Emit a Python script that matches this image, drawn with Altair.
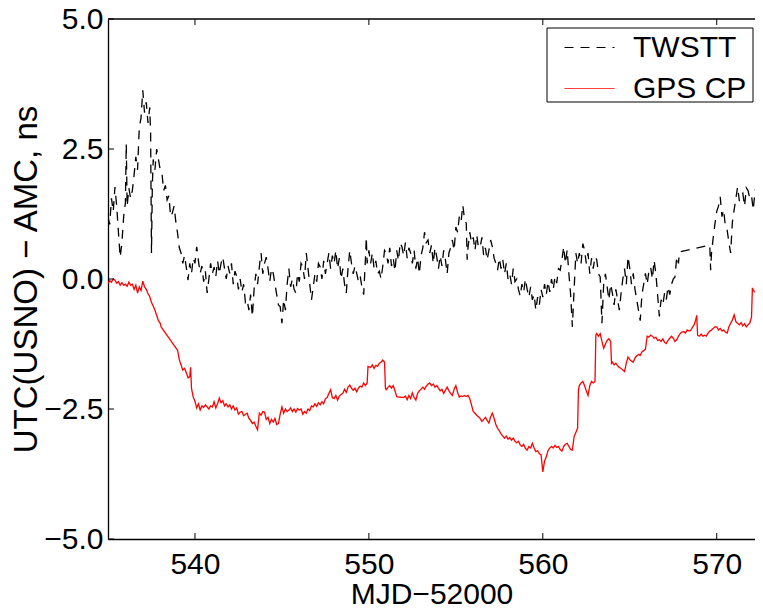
import altair as alt
import pandas as pd

# ---------------- data ----------------
twstt_x = [535.0,535.1,535.2,535.3,535.4,535.5,535.6,535.7,535.8,535.9,536.0,536.05,536.1,536.2,536.3,536.4,536.5,536.6,536.7,536.8,536.9,537.0,537.1,537.2,537.3,537.4,537.45,537.5,537.55,537.6,537.7,537.8,537.9,538.0,538.1,538.2,538.3,538.4,538.5,538.6,538.7,538.8,538.9,539.0,539.1,539.2,539.3,539.4,539.5,539.6,539.7,539.8,539.9,540.0,540.1,540.2,540.3,540.4,540.5,540.6,540.7,540.8,540.9,541.0,541.1,541.2,541.3,541.4,541.5,541.6,541.7,541.8,541.9,542.0,542.1,542.2,542.3,542.4,542.5,542.6,542.7,542.8,542.9,543.0,543.1,543.2,543.3,543.4,543.5,543.6,543.7,543.8,543.9,544.0,544.1,544.2,544.3,544.4,544.5,544.6,544.7,544.8,544.9,545.0,545.1,545.2,545.3,545.4,545.5,545.6,545.7,545.8,545.9,546.0,546.1,546.2,546.3,546.4,546.5,546.6,546.7,546.8,546.9,547.0,547.1,547.2,547.3,547.4,547.5,547.6,547.7,547.8,547.9,548.0,548.1,548.2,548.3,548.4,548.5,548.6,548.7,548.8,548.9,549.0,549.1,549.2,549.3,549.4,549.5,549.6,549.7,549.8,549.85,549.9,550.0,550.1,550.2,550.3,550.4,550.5,550.6,550.7,550.8,550.9,551.0,551.1,551.2,551.3,551.4,551.5,551.6,551.7,551.8,551.9,552.0,552.1,552.2,552.3,552.4,552.5,552.6,552.7,552.8,552.9,553.0,553.1,553.2,553.3,553.4,553.5,553.6,553.7,553.8,553.9,554.0,554.1,554.2,554.3,554.4,554.5,554.6,554.7,554.8,554.9,555.0,555.1,555.2,555.3,555.4,555.5,555.6,555.65,555.7,555.8,555.9,556.0,556.1,556.2,556.3,556.4,556.5,556.6,556.7,556.8,556.9,557.0,557.1,557.2,557.3,557.4,557.5,557.6,557.7,557.8,557.9,558.0,558.1,558.2,558.3,558.4,558.5,558.6,558.7,558.8,558.9,559.0,559.1,559.2,559.3,559.4,559.5,559.6,559.7,559.8,559.9,560.0,560.1,560.2,560.3,560.4,560.5,560.6,560.7,560.8,560.9,561.0,561.1,561.2,561.3,561.4,561.5,561.6,561.7,561.8,561.9,562.0,562.1,562.2,562.3,562.4,562.5,562.6,562.7,562.8,562.9,563.0,563.1,563.2,563.3,563.4,563.5,563.6,563.7,563.8,563.9,564.0,564.1,564.2,564.3,564.4,564.5,564.6,564.7,564.8,564.9,565.0,565.1,565.2,565.3,565.4,565.5,565.6,565.7,565.8,565.9,566.0,566.1,566.2,566.3,566.4,566.5,566.6,566.7,566.8,566.9,567.0,567.1,567.2,567.3,567.4,567.5,567.6,567.7,567.8,567.85,569.6,569.65,569.7,569.8,569.9,570.0,570.1,570.2,570.3,570.4,570.5,570.6,570.7,570.8,570.9,571.0,571.1,571.2,571.3,571.4,571.5,571.6,571.7,571.8,571.9,572.0,572.1,572.2,572.3,572.4,572.5,572.6]
twstt_y = [1.19,1.05,1.55,1.3,1.77,1.4,0.9,0.42,0.7,1.2,1.46,2.6,1.4,1.75,1.55,1.7,2.0,2.35,2.1,2.92,3.1,3.63,3.2,3.4,3.0,3.3,2.8,0.5,1.8,2.3,2.1,2.5,2.3,2.1,2.04,1.7,1.8,1.52,1.6,1.2,1.27,1.4,1.1,0.88,0.6,0.5,0.3,0.45,0.23,-0.02,0.3,0.1,0.4,0.3,0.62,0.35,0.11,0.25,-0.05,0.15,-0.27,0.0,0.3,0.1,0.23,0.05,0.35,0.1,0.3,0.42,0.2,0.0,0.25,0.11,0.3,-0.1,0.15,0.05,-0.2,0.0,-0.25,-0.1,-0.45,-0.4,-0.6,-0.3,-0.72,-0.2,0.1,-0.1,0.23,0.5,0.1,0.3,0.42,0.2,-0.05,0.2,0.11,-0.1,-0.3,-0.5,-0.53,-0.85,-0.4,-0.6,-0.1,0.2,-0.15,0.0,-0.2,-0.27,0.1,-0.05,0.3,0.23,0.0,0.5,0.2,-0.1,-0.4,-0.15,0.1,-0.05,0.3,0.23,0.0,0.35,0.1,0.3,0.5,0.2,0.45,0.3,0.55,0.2,0.4,0.0,0.2,-0.1,-0.27,0.2,0.55,0.3,0.1,0.25,0.11,-0.05,0.05,-0.15,-0.3,0.37,0.8,0.3,0.55,0.3,0.5,0.2,0.35,0.1,0.15,0.0,0.25,0.55,0.5,0.3,0.6,0.25,0.4,0.15,0.55,0.35,0.7,0.62,0.45,0.7,0.4,0.6,0.5,0.3,0.55,0.2,0.4,0.1,0.45,0.6,0.9,0.7,0.75,0.5,0.65,0.3,0.6,0.43,0.2,0.45,0.25,0.55,0.37,0.1,0.5,0.6,0.75,0.55,1.0,0.9,1.2,1.1,1.42,1.15,1.07,0.37,0.6,0.9,0.7,0.8,0.55,0.85,0.6,0.62,0.8,0.45,0.6,0.37,0.55,0.75,0.62,0.4,0.3,0.17,0.4,0.2,0.37,0.1,0.3,0.0,0.1,-0.1,0.2,-0.05,0.0,-0.2,-0.33,-0.1,-0.25,0.0,-0.2,-0.35,-0.15,-0.4,-0.3,-0.6,-0.35,-0.5,-0.2,-0.35,-0.1,-0.3,-0.05,-0.25,0.0,-0.2,0.05,-0.08,0.2,0.17,0.37,0.62,0.3,0.56,0.1,-0.3,-0.92,-0.2,0.5,0.3,0.5,0.3,0.68,0.56,0.3,0.5,0.1,0.4,0.2,0.43,0.37,0.1,0.04,-0.85,-0.1,0.1,-0.15,-0.4,-0.1,-0.27,-0.5,-0.2,-0.4,-0.6,-0.27,0.0,0.2,-0.1,0.43,0.2,-0.1,0.11,-0.2,-0.4,-0.6,-0.8,-0.3,-0.1,0.11,-0.1,0.15,0.23,0.0,0.36,0.1,-0.3,-0.72,-0.4,-0.5,-0.27,-0.4,-0.15,-0.3,-0.1,0.0,0.04,0.43,0.3,0.52,0.65,0.17,0.5,0.8,1.07,1.3,1.4,1.58,1.2,1.33,1.0,0.94,0.7,0.5,1.1,1.33,1.55,1.77,1.5,1.6,1.65,1.4,1.75,1.7,1.55,1.6,1.33,1.7,1.77,1.65,1.85,1.9]

gps_x = [535.0,535.1,535.2,535.3,535.4,535.5,535.6,535.7,535.8,535.9,536.0,536.1,536.2,536.3,536.4,536.5,536.6,536.7,536.8,536.9,537.0,537.1,537.2,537.3,537.4,537.5,537.6,537.7,537.8,537.9,538.0,538.05,539.0,539.1,539.2,539.3,539.4,539.5,539.6,539.7,539.75,539.8,539.9,540.0,540.1,540.2,540.3,540.4,540.5,540.6,540.7,540.8,540.9,541.0,541.1,541.2,541.3,541.4,541.5,541.6,541.7,541.8,541.9,542.0,542.1,542.2,542.3,542.4,542.5,542.6,542.7,542.8,542.9,543.0,543.1,543.2,543.3,543.4,543.5,543.6,543.7,543.8,543.9,544.0,544.1,544.2,544.3,544.4,544.5,544.6,544.7,544.8,544.9,545.0,545.1,545.2,545.3,545.4,545.5,545.6,545.7,545.8,545.9,546.0,546.1,546.2,546.3,546.4,546.5,546.6,546.7,546.8,546.9,547.0,547.1,547.2,547.3,547.4,547.5,547.6,547.7,547.8,547.9,548.0,548.1,548.2,548.3,548.4,548.5,548.6,548.7,548.8,548.9,549.0,549.1,549.2,549.3,549.4,549.5,549.6,549.7,549.8,549.9,549.95,550.1,550.2,550.3,550.4,550.5,550.6,550.7,550.8,550.9,550.95,551.0,551.1,551.2,551.3,551.4,551.5,551.6,551.7,552.0,552.1,552.2,552.3,552.4,552.5,552.6,552.7,552.8,552.9,553.0,553.1,553.2,553.3,553.4,553.5,553.6,553.7,553.8,553.9,554.0,554.1,554.2,554.3,554.4,554.5,554.6,554.7,554.8,554.9,555.0,555.1,555.2,555.3,555.4,555.5,555.6,555.7,555.8,555.9,556.0,556.1,556.2,556.3,556.4,556.5,556.6,556.7,556.8,556.9,557.0,557.1,557.2,557.3,557.4,557.5,557.6,557.7,557.8,557.9,558.0,558.1,558.2,558.3,558.4,558.5,558.6,558.7,558.8,558.9,559.0,559.1,559.2,559.3,559.4,559.5,559.6,559.7,559.8,559.9,560.0,560.1,560.2,560.3,560.4,560.5,560.6,560.7,560.8,560.9,561.0,561.1,561.2,561.3,561.4,561.5,561.6,561.7,561.8,561.9,562.0,562.05,562.1,562.2,562.3,562.4,562.5,562.6,562.7,562.8,562.9,563.0,563.05,563.1,563.2,563.3,563.4,563.5,563.6,563.7,563.8,563.9,563.95,564.0,564.1,564.2,564.3,564.4,564.5,564.6,564.7,564.8,564.9,565.0,565.1,565.2,565.3,565.4,565.5,565.6,565.7,565.8,565.9,566.0,566.1,566.2,566.3,566.4,566.5,566.6,566.7,566.8,566.9,567.0,567.1,567.2,567.3,567.4,567.5,567.6,567.7,567.8,567.9,568.0,568.1,568.2,568.3,568.4,568.5,568.6,568.7,568.8,568.85,568.9,569.0,569.1,569.2,569.3,569.4,569.5,569.6,569.7,569.8,569.9,570.0,570.1,570.2,570.3,570.4,570.5,570.6,570.7,570.8,570.9,571.0,571.1,571.2,571.3,571.4,571.5,571.6,571.7,571.8,571.9,572.0,572.05,572.1,572.2,572.3,572.4,572.5,572.6]
gps_y = [-0.08,-0.03,-0.06,0.0,-0.02,-0.08,-0.05,-0.12,-0.07,-0.12,-0.1,-0.14,-0.06,-0.12,-0.1,-0.2,-0.12,-0.27,-0.15,-0.22,-0.04,-0.15,-0.2,-0.28,-0.34,-0.45,-0.52,-0.6,-0.7,-0.8,-0.85,-0.92,-1.37,-1.55,-1.65,-1.75,-1.72,-1.8,-1.9,-1.88,-1.7,-2.1,-2.27,-2.35,-2.48,-2.4,-2.52,-2.44,-2.47,-2.42,-2.46,-2.5,-2.44,-2.46,-2.36,-2.48,-2.4,-2.29,-2.38,-2.34,-2.44,-2.4,-2.46,-2.42,-2.5,-2.44,-2.52,-2.48,-2.6,-2.56,-2.55,-2.63,-2.6,-2.58,-2.68,-2.72,-2.78,-2.75,-2.83,-2.9,-2.58,-2.62,-2.55,-2.56,-2.7,-2.66,-2.78,-2.7,-2.75,-2.68,-2.8,-2.78,-2.6,-2.46,-2.58,-2.5,-2.55,-2.52,-2.48,-2.55,-2.5,-2.56,-2.49,-2.52,-2.5,-2.6,-2.55,-2.58,-2.5,-2.53,-2.44,-2.46,-2.4,-2.45,-2.38,-2.42,-2.36,-2.4,-2.3,-2.28,-2.2,-2.13,-2.28,-2.3,-2.24,-2.33,-2.25,-2.22,-2.2,-2.12,-2.18,-2.08,-2.04,-2.1,-2.14,-2.1,-2.17,-2.1,-2.06,-2.08,-2.0,-2.05,-2.0,-1.68,-1.7,-1.65,-1.72,-1.66,-1.68,-1.62,-1.6,-1.56,-1.6,-2.1,-2.13,-2.08,-2.05,-2.1,-2.05,-2.15,-2.26,-2.27,-2.28,-2.25,-2.32,-2.24,-2.3,-2.19,-2.28,-2.33,-2.2,-2.15,-2.12,-2.08,-2.12,-2.06,-2.02,-2.0,-2.05,-2.02,-2.08,-2.05,-2.1,-2.15,-2.12,-2.2,-2.14,-2.08,-2.15,-2.2,-2.24,-2.12,-2.05,-2.18,-2.27,-2.25,-2.26,-2.24,-2.26,-2.24,-2.3,-2.42,-2.55,-2.58,-2.62,-2.65,-2.68,-2.74,-2.7,-2.66,-2.72,-2.77,-2.65,-2.58,-2.68,-2.8,-2.87,-2.92,-2.98,-3.02,-3.06,-3.02,-3.08,-3.05,-3.1,-3.06,-3.12,-3.15,-3.12,-3.19,-3.22,-3.18,-3.26,-3.29,-3.22,-3.25,-3.16,-3.25,-3.32,-3.3,-3.36,-3.38,-3.71,-3.5,-3.42,-3.3,-3.25,-3.22,-3.25,-3.2,-3.24,-3.22,-3.28,-3.31,-3.22,-3.18,-3.16,-3.22,-3.28,-3.29,-3.03,-2.95,-2.87,-2.13,-2.05,-2.0,-1.97,-2.05,-2.15,-2.24,-2.05,-1.97,-2.0,-1.97,-1.08,-1.05,-1.1,-1.05,-1.2,-1.33,-1.25,-1.18,-1.15,-1.2,-1.62,-1.6,-1.65,-1.62,-1.67,-1.7,-1.72,-1.75,-1.78,-1.62,-1.5,-1.55,-1.58,-1.6,-1.52,-1.48,-1.45,-1.47,-1.4,-1.38,-1.35,-1.1,-1.12,-1.08,-1.1,-1.14,-1.12,-1.18,-1.17,-1.2,-1.15,-1.22,-1.24,-1.18,-1.14,-1.1,-1.14,-1.2,-1.17,-1.1,-1.05,-1.02,-1.01,-1.04,-0.98,-1.0,-0.99,-0.93,-0.88,-0.78,-0.7,-1.08,-1.1,-1.06,-1.1,-1.08,-1.1,-1.04,-1.0,-0.98,-0.95,-0.92,-0.92,-0.98,-0.95,-1.0,-0.98,-1.02,-1.04,-0.92,-0.85,-0.79,-0.69,-0.82,-0.85,-0.88,-0.84,-0.9,-0.86,-0.92,-0.88,-0.85,-0.73,-0.17,-0.22,-0.25,-0.27,-0.3,-0.34,-0.37]

series_names = ["TWSTT", "GPS CP"]
series_colors = ["#000000", "#ff0000"]
x_ticks = [540, 550, 560, 570]
y_ticks = [-5.0, -2.5, 0.0, 2.5, 5.0]
x_title = "MJD\u221252000"
y_title = "UTC(USNO) \u2212 AMC, ns"

# ---------------- build table ----------------
df = pd.concat([
    pd.DataFrame({"mjd": twstt_x, "val": twstt_y, "series": series_names[0]}),
    pd.DataFrame({"mjd": gps_x, "val": gps_y, "series": series_names[1]}),
], ignore_index=True)

W, H = 647, 520
FONT = "Liberation Sans"
FS = 30

xscale = alt.Scale(domain=[535, 572.2], nice=False, zero=False)
yscale = alt.Scale(domain=[-5, 5], nice=False, zero=False)

lines = alt.Chart(df).mark_line(strokeWidth=1.3, clip=True).encode(
    x=alt.X("mjd:Q", scale=xscale,
            axis=alt.Axis(values=x_ticks, title=x_title, format="d")),
    y=alt.Y("val:Q", scale=yscale,
            axis=alt.Axis(values=y_ticks, title=y_title, format=".1f",
                          titleFontSize=33)),
    color=alt.Color("series:N", title=None,
                    scale=alt.Scale(domain=series_names, range=series_colors)),
    strokeDash=alt.StrokeDash("series:N", title=None,
                              scale=alt.Scale(domain=series_names, range=[[9, 7], [1, 0]])),
    order="mjd:Q",
)

# legend box
box = alt.Chart(pd.DataFrame({"k": [0]})).mark_rect(
    fill="white", stroke="black", strokeWidth=1
).encode(x=alt.value(439), x2=alt.value(645), y=alt.value(9), y2=alt.value(83))

# top frame line
top = alt.Chart(pd.DataFrame({"k": [0]})).mark_rule(color="black", strokeWidth=1.3).encode(
    x=alt.value(0), x2=alt.value(W), y=alt.value(0))

# inward ticks
xt = pd.DataFrame({"t": x_ticks})
yt = pd.DataFrame({"t": y_ticks})
xt_bottom = alt.Chart(xt).mark_rule(color="black", strokeWidth=1).encode(
    x=alt.X("t:Q", scale=xscale), y=alt.value(H), y2=alt.value(H - 6))
xt_top = alt.Chart(xt).mark_rule(color="black", strokeWidth=1).encode(
    x=alt.X("t:Q", scale=xscale), y=alt.value(0), y2=alt.value(6))
yt_left = alt.Chart(yt).mark_rule(color="black", strokeWidth=1).encode(
    y=alt.Y("t:Q", scale=yscale), x=alt.value(0), x2=alt.value(6))

chart = alt.layer(box, lines, xt_bottom, xt_top, yt_left, top).properties(
    width=W, height=H,
    autosize=alt.AutoSizeParams(type="none"),
    padding={"left": 100, "top": 11, "right": 0, "bottom": 70},
).configure_view(stroke=None).configure_axis(
    grid=False, ticks=False, domain=True, domainColor="black", domainWidth=1.3,
    labelFont=FONT, labelFontSize=FS, labelColor="black", labelPadding=5,
    titleFont=FONT, titleFontSize=FS, titleColor="black", titleFontWeight="normal",
).configure_axisX(labelPadding=10, titlePadding=0).configure_axisY(titlePadding=0).configure_legend(
    orient="none", legendX=456, legendY=3, padding=0,
    symbolType="stroke", symbolSize=2500, symbolStrokeWidth=1,
    labelFont=FONT, labelFontSize=FS, labelColor="black", labelOffset=18,
    rowPadding=-3,
)

chart.save("out.html", embed_options={"renderer": "svg", "actions": False})
